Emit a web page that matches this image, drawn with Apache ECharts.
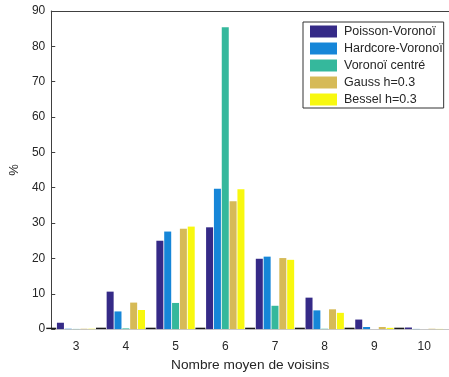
<!DOCTYPE html>
<html>
<head>
<meta charset="utf-8">
<script src="https://cdn.jsdelivr.net/npm/echarts@6/dist/echarts.min.js"></script>
<style>
html,body{margin:0;padding:0;background:#fff;}
#c{width:449px;height:377px;}
</style>
</head>
<body>
<div id="c"></div>
<script>
var categories = ['3','4','5','6','7','8','9','10'];
var poisson  = [1.8, 10.6, 25.0, 28.8, 19.9, 8.9, 2.7, 0.45];
var hardcore = [0.1, 5.0, 27.6, 39.7, 20.5, 5.3, 0.6, 0.05];
var voronoiC = [0.05, 0.2, 7.4, 85.4, 6.6, 0.1, 0.0, 0.0];
var gauss    = [0.1, 7.5, 28.4, 36.2, 20.1, 5.6, 0.6, 0.1];
var bessel   = [0.1, 5.4, 29.0, 39.6, 19.6, 4.6, 0.35, 0.05];
var boundaries = [2.5, 3.5, 4.5, 5.5, 6.5, 7.5, 8.5, 9.5];
var boundaryValues = [0.4, 0.4, 0.4, 0.4, 0.4, 0.4, 0.4, 0.4];
var yTicks = {min: 0, max: 90, interval: 10};

var names = ['Poisson-Voronoï','Hardcore-Voronoï','Voronoï centré','Gauss h=0.3','Bessel h=0.3'];
var colors = ['#352a87','#1686d8','#35b89c','#d6ba57','#f8f80f'];
var seriesData = [poisson, hardcore, voronoiC, gauss, bessel];

var font = 'Liberation Sans, Arial, Helvetica, sans-serif';
var txt = '#262626';

var series = seriesData.map(function(d, i){
  return {
    name: names[i], type: 'bar', xAxisIndex: 0, yAxisIndex: 0,
    data: d, barWidth: 7, barGap: '12%',
    itemStyle: {color: colors[i]}
  };
});
series.push({
  name: 'sep', type: 'bar', xAxisIndex: 1, yAxisIndex: 0,
  data: boundaries.map(function(b, i){ return [b, boundaryValues[i]]; }),
  barWidth: 10, itemStyle: {color: '#1a1a1a'}, silent: true
});

var chart = echarts.init(document.getElementById('c'), null, {renderer: 'canvas'});
chart.setOption({
  animation: false,
  backgroundColor: '#fff',
  textStyle: {fontFamily: font},
  grid: {left: 50, top: 11, width: 408, height: 321, containLabel: false},
  legend: {
    data: names, orient: 'vertical', left: 303, top: 22,
    icon: 'rect', itemWidth: 27, itemHeight: 12, itemGap: 4,
    padding: [3, 1, 2, 7],
    borderColor: '#333', borderWidth: 1, backgroundColor: '#fff',
    textStyle: {fontFamily: font, fontSize: 12.5, color: txt, padding: [0,0,0,2]}
  },
  xAxis: [
    {
      type: 'category', data: categories, position: 'bottom', boundaryGap: true,
      axisLine: {lineStyle: {color: '#c8c8c8', width: 1}},
      axisTick: {inside: true, alignWithLabel: true, length: 4, lineStyle: {color: '#262626'}},
      axisLabel: {fontSize: 12, color: txt, margin: 12, fontFamily: font},
      name: 'Nombre moyen de voisins', nameLocation: 'middle', nameGap: 28,
      nameTextStyle: {fontSize: 13.7, color: txt, fontFamily: font},
      splitLine: {show: false}
    },
    {type: 'value', min: 2.5, max: 10.5, show: false},
    {
      type: 'category', data: categories, position: 'top', boundaryGap: true,
      axisLine: {lineStyle: {color: '#404040', width: 1}},
      axisTick: {inside: true, alignWithLabel: true, length: 4, lineStyle: {color: '#404040'}},
      axisLabel: {show: false}, splitLine: {show: false}
    }
  ],
  yAxis: [{
    type: 'value', min: yTicks.min, max: yTicks.max, interval: yTicks.interval,
    axisLine: {show: true, lineStyle: {color: '#404040', width: 1}},
    axisTick: {show: true, inside: true, length: 4, lineStyle: {color: '#404040'}},
    axisLabel: {fontSize: 12, color: txt, margin: 6, fontFamily: font},
    splitLine: {show: false},
    name: '%', nameLocation: 'middle', nameGap: 21, nameRotate: 90,
    nameTextStyle: {fontSize: 13, color: txt, fontFamily: font}
  }],
  series: series
});
</script>
</body>
</html>
